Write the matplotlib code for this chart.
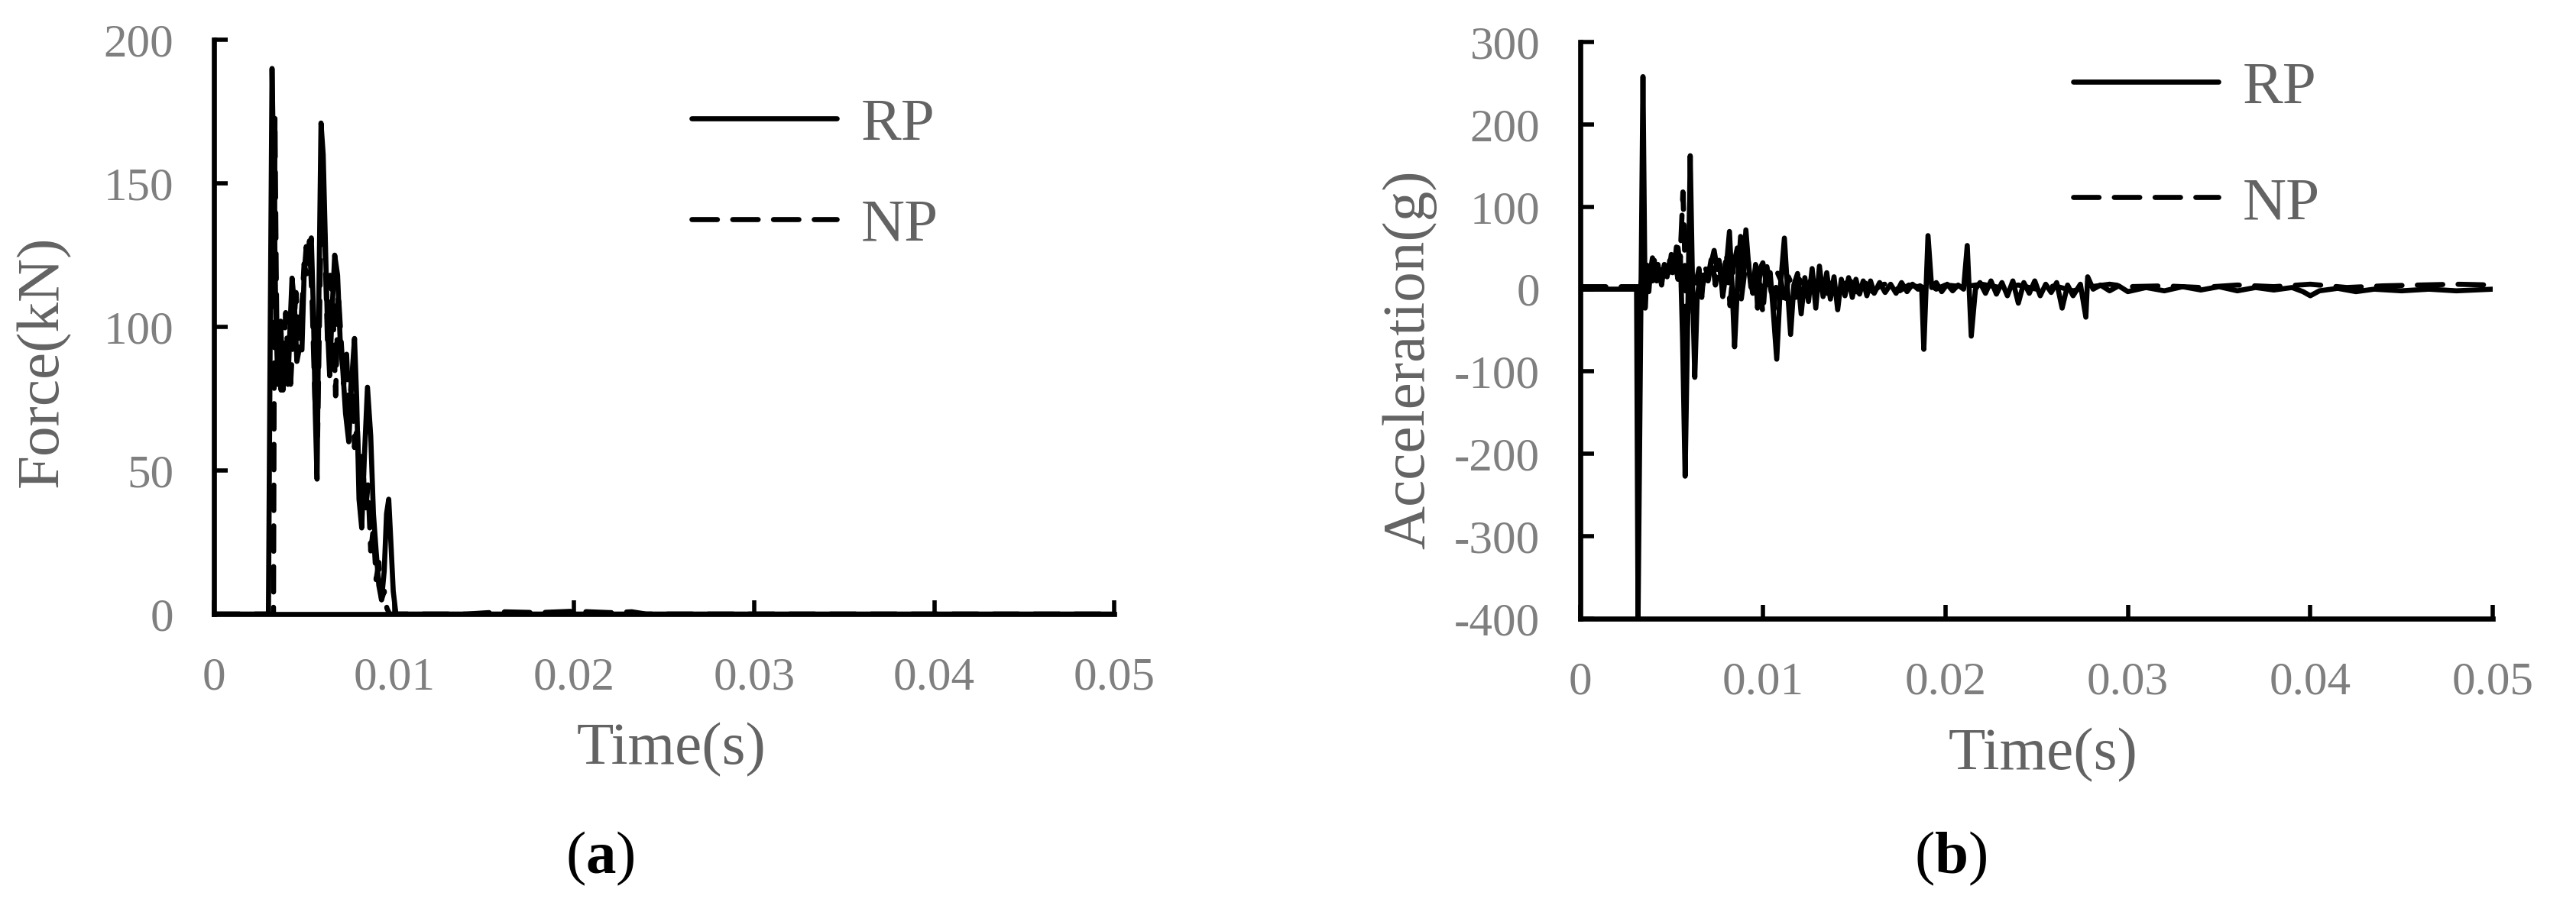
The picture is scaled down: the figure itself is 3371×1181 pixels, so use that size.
import matplotlib
matplotlib.use("Agg")
import matplotlib.pyplot as plt

# Tiempo (s) y fuerza (kN), panel (a)
force_rp_t = [
    0, 0.00302, 0.00312, 0.00322, 0.00332, 0.00345, 0.00358, 0.00370, 0.00383, 0.00396,
    0.00410, 0.00422, 0.00433, 0.00446, 0.00460, 0.00475, 0.00488, 0.00500, 0.00512, 0.00525,
    0.00540, 0.00552, 0.00562, 0.00572, 0.00582, 0.00594, 0.00606, 0.00618, 0.00630, 0.00642,
    0.00655, 0.00670, 0.00686, 0.00700, 0.00715, 0.00730, 0.00748, 0.00765, 0.00780, 0.00792,
    0.00805, 0.00820, 0.00835, 0.00852, 0.00870, 0.00885, 0.00900, 0.00915, 0.00930, 0.00945,
    0.00958, 0.00970, 0.00982, 0.00995, 0.01010, 0.0500,
]
force_rp = [
    0, 0, 100, 190, 150, 95, 85, 102, 78, 92,
    80, 100, 117, 108, 88, 93, 92, 118, 128, 122,
    131, 105, 70, 47, 110, 171, 160, 130, 100, 83,
    105, 125, 118, 96, 85, 70, 60, 82, 96, 75,
    40, 30, 55, 79, 62, 35, 22, 10, 5, 15,
    35, 40, 25, 8, 0, 0,
]

force_np_t = [
    0, 0.00330, 0.00338, 0.00345, 0.00352, 0.00360, 0.00372, 0.00385, 0.00398, 0.00410,
    0.00425, 0.00440, 0.00455, 0.00470, 0.00485, 0.00500, 0.00515, 0.00530, 0.00545, 0.00560,
    0.00575, 0.00590, 0.00603, 0.00615, 0.00630, 0.00645, 0.00660, 0.00675, 0.00690, 0.00705,
    0.00720, 0.00735, 0.00750, 0.00765, 0.00780, 0.00795, 0.00810, 0.00825, 0.00840, 0.00855,
    0.00870, 0.00885, 0.00900, 0.00915, 0.00930, 0.00945, 0.00960, 0.00975, 0.0140, 0.0160,
    0.0180, 0.0200, 0.0220, 0.0232, 0.0240, 0.0500,
]
force_np = [
    0, 0, 173, 120, 80, 95, 78, 88, 105, 90,
    80, 98, 112, 96, 104, 122, 118, 130, 108, 75,
    62, 120, 159, 130, 95, 118, 108, 76, 112, 96,
    80, 92, 70, 84, 58, 66, 42, 55, 35, 45,
    22, 30, 12, 18, 5, 8, 2, 0, 0, 0.8,
    0.5, 1, 0.5, 0.8, 0, 0,
]

# Tiempo (s) y aceleracion (g), panel (b)
accel_rp_t = [
    0, 0.00300, 0.00308, 0.00316, 0.00343, 0.00355, 0.00365, 0.00375, 0.00385, 0.00395,
    0.00405, 0.00418, 0.00430, 0.00445, 0.00460, 0.00475, 0.00490, 0.00505, 0.00520, 0.00535,
    0.00548, 0.00560, 0.00574, 0.00588, 0.00602, 0.00615, 0.00627, 0.00640, 0.00655, 0.00670,
    0.00685, 0.00700, 0.00715, 0.00733, 0.00750, 0.00765, 0.00780, 0.00795, 0.00817, 0.00832,
    0.00845, 0.00862, 0.00878, 0.00893, 0.00907, 0.00925, 0.00945, 0.00960, 0.00971, 0.00985,
    0.01000, 0.01020, 0.01040, 0.01058, 0.01076, 0.01095, 0.01118, 0.01135, 0.01152, 0.01170,
    0.01190, 0.01210, 0.01230, 0.01250, 0.01270, 0.01290, 0.01310, 0.01330, 0.01350, 0.01370,
    0.01390, 0.01410, 0.01430, 0.01450, 0.01470, 0.01490, 0.01510, 0.01530, 0.01550, 0.01570,
    0.01590, 0.01610, 0.01640, 0.01670, 0.01700, 0.01730, 0.01760, 0.01790, 0.01820, 0.01850,
    0.01870, 0.01882, 0.01905, 0.01925, 0.01950, 0.01980, 0.02010, 0.02040, 0.02070, 0.02100,
    0.02120, 0.02142, 0.02165, 0.02190, 0.02220, 0.02250, 0.02280, 0.02310, 0.02340, 0.02370,
    0.02400, 0.02430, 0.02460, 0.02490, 0.02520, 0.02550, 0.02580, 0.02610, 0.02640, 0.02670,
    0.02700, 0.02740, 0.02770, 0.02780, 0.02810, 0.02850, 0.02900, 0.02950, 0.03000, 0.03100,
    0.03200, 0.03300, 0.03400, 0.03500, 0.03600, 0.03700, 0.03800, 0.03900, 0.03960, 0.04000,
    0.04050, 0.04150, 0.04250, 0.04350, 0.04500, 0.04650, 0.04800, 0.04900, 0.05000,
]
accel_rp = [
    0, 0, 0, -400, 258, -23, 20, -3, 25, 10,
    35, 10, 22, 5, 30, 15, 35, 20, 30, 12,
    40, -60, -227, -40, 162, 0, -107, -10, 14, 5,
    18, 10, 30, 47, 24, 30, -9, 15, 70, 0,
    -70, 10, 64, 20, 72, 20, -5, 30, -23, 25,
    32, 5, 20, -30, -85, 0, 62, 0, -55, 5,
    19, -30, 14, -15, 25, -23, 28, -9, 20, -12,
    15, -25, 12, -8, 14, -10, 12, -6, 10, -8,
    10, -5, 8, -4, 6, -5, 8, -3, 6, 0,
    3, -73, 65, 2, 8, -3, 6, -2, 5, 0,
    53, -57, 0, 8, -5, 10, -6, 8, -8, 10,
    -17, 8, -5, 10, -8, 6, -4, 8, -23, 5,
    -8, 6, -34, 15, 0, 5, -2, 4, -3, 2,
    -2, 3, -1, 3, -2, 2, -1, 2, -3, -8,
    -2, 1, -3, 0, -2, 0, -2, -1, 0,
]

accel_np_t = [
    0, 0.00330, 0.00340, 0.00352, 0.00365, 0.00380, 0.00395, 0.00410, 0.00425, 0.00440,
    0.00455, 0.00470, 0.00485, 0.00500, 0.00515, 0.00530, 0.00545, 0.00555, 0.00562, 0.00570,
    0.00580, 0.00592, 0.00605, 0.00620, 0.00635, 0.00650, 0.00665, 0.00680, 0.00700, 0.00720,
    0.00740, 0.00760, 0.00780, 0.00800, 0.00820, 0.00840, 0.00860, 0.00880, 0.00900, 0.00920,
    0.00940, 0.00960, 0.00980, 0.01000, 0.01020, 0.01040, 0.01060, 0.01080, 0.01100, 0.01120,
    0.01140, 0.01160, 0.01180, 0.01200, 0.01230, 0.01260, 0.01290, 0.01320, 0.01350, 0.01380,
    0.01410, 0.01440, 0.01480, 0.01520, 0.01560, 0.01600, 0.01650, 0.01700, 0.01750, 0.01800,
    0.01850, 0.01900, 0.01950, 0.02000, 0.02100, 0.02200, 0.02300, 0.02400, 0.02500, 0.02600,
    0.02700, 0.02800, 0.02900, 0.03000, 0.03200, 0.03400, 0.03600, 0.03800, 0.04000, 0.04200,
    0.04400, 0.04600, 0.04800, 0.05000,
]
accel_np = [
    3, 3, 20, 5, 30, 15, 38, 20, 30, 12,
    28, 35, 20, 45, 25, 60, 30, 80, 118, 60,
    -60, -20, 40, -30, 10, 25, -10, 30, 15, 40,
    5, 35, -5, 45, -20, 30, 50, -15, 20, 35,
    -10, 25, 15, -30, 30, 5, -25, 20, 10, -20,
    15, 5, -10, 12, 0, 10, -8, 12, -5, 8,
    -6, 6, 10, -5, 8, -3, 5, 8, -2, 5,
    3, 8, 0, 5, 3, 6, 2, 5, 0, 4,
    -2, 3, 6, 3, 4, 2, 5, 3, 6, 2,
    4, 5, 6, 5,
]

time_ticks = [0, 0.01, 0.02, 0.03, 0.04, 0.05]
time_labels = ["0", "0.01", "0.02", "0.03", "0.04", "0.05"]
force_ticks = [0, 50, 100, 150, 200]
accel_ticks = [-400, -300, -200, -100, 0, 100, 200, 300]
series_names = ["RP", "NP"]

TICK_GRAY = "#7f7f7f"
LABEL_GRAY = "#636363"
LW = 4.8
NP_DASH = (5, 3.0)

plt.rcParams["font.family"] = ["Liberation Serif", "DejaVu Serif"]
plt.rcParams["axes.unicode_minus"] = False
plt.rcParams["mathtext.fontset"] = "custom"
plt.rcParams["mathtext.rm"] = "Liberation Serif"
plt.rcParams["mathtext.bf"] = "Liberation Serif:bold"


def style_axes(ax, yticks):
    for side in ["top", "right"]:
        ax.spines[side].set_visible(False)
    for side in ["left", "bottom"]:
        ax.spines[side].set_linewidth(4.8)
        ax.spines[side].set_color("black")
    ax.set_xlim(0, 0.05)
    ax.set_xticks(time_ticks)
    ax.set_xticklabels(time_labels)
    ax.set_yticks(yticks)
    ax.set_yticklabels([str(v) for v in yticks])
    ax.set_ylim(yticks[0], yticks[-1])
    ax.tick_params(direction="in", length=13, width=4, color="black",
                   labelcolor=TICK_GRAY, labelsize=44)
    ax.tick_params(axis="x", pad=40)
    ax.tick_params(axis="y", pad=38)


def draw_panel(ax, t_rp, v_rp, t_np, v_np):
    ax.plot(t_rp, v_rp, color="black", lw=LW, solid_joinstyle="round",
            solid_capstyle="round", label=series_names[0])
    ax.plot(t_np, v_np, color="black", lw=LW, dashes=NP_DASH,
            dash_capstyle="round", dash_joinstyle="round", label=series_names[1])


def add_legend(ax, fig, anchor, spacing):
    leg = ax.legend(loc="upper left", bbox_to_anchor=anchor,
                    bbox_transform=fig.transFigure, frameon=False, fontsize=57,
                    handlelength=2.4, handletextpad=0.4, labelspacing=spacing,
                    borderpad=0, borderaxespad=0)
    for txt in leg.get_texts():
        txt.set_color(LABEL_GRAY)


def main():
    fig = plt.figure(figsize=(33.71, 11.81), dpi=100)

    ax_a = fig.add_axes([0.0831, 0.3192, 0.3495, 0.6367])
    draw_panel(ax_a, force_rp_t, force_rp, force_np_t, force_np)
    style_axes(ax_a, force_ticks)
    ax_a.set_xlabel("Time(s)", fontsize=57, color=LABEL_GRAY)
    ax_a.set_ylabel("Force(kN)", fontsize=57, color=LABEL_GRAY)
    ax_a.xaxis.set_label_coords(0.508, -0.189)
    ax_a.yaxis.set_label_coords(-0.160, 0.44)
    add_legend(ax_a, fig, (0.2685, 0.892), 0.75)

    ax_b = fig.add_axes([0.6135, 0.3141, 0.3542, 0.6393])
    draw_panel(ax_b, accel_rp_t, accel_rp, accel_np_t, accel_np)
    style_axes(ax_b, accel_ticks)
    ax_b.set_xlabel("Time(s)", fontsize=57, color=LABEL_GRAY)
    ax_b.set_ylabel("Acceleration(g)", fontsize=57, color=LABEL_GRAY)
    ax_b.xaxis.set_label_coords(0.507, -0.189)
    ax_b.yaxis.set_label_coords(-0.157, 0.449)
    add_legend(ax_b, fig, (0.8048, 0.933), 1.0)

    fig.text(0.2329, 0.0322, r"($\mathbf{a}$)", fontsize=57, ha="center", va="baseline")
    fig.text(0.7573, 0.0322, r"($\mathbf{b}$)", fontsize=57, ha="center", va="baseline")

    fig.savefig("out.png", dpi=100)


if __name__ == "__main__":
    main()
